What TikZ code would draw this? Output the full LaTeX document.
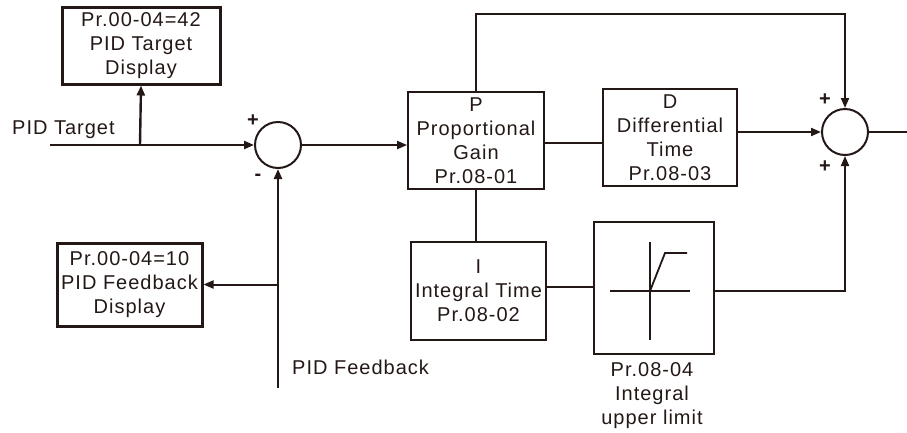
\documentclass[tikz,border=0pt]{standalone}
\usepackage{fontspec}
\setmainfont{Liberation Sans}[LetterSpace=5]
\usetikzlibrary{arrows.meta,calc}
\definecolor{ink}{RGB}{35,24,21}
\tikzset{
  every node/.style={font=\fontsize{20}{24}\selectfont, text=ink, inner sep=0pt, align=center},
  blk/.style={draw=ink, line width=1.8pt, rectangle},
  disp/.style={draw=ink, line width=3pt, rectangle},
  sum/.style={draw=ink, line width=2pt, circle, minimum size=46pt},
  conn/.style={draw=ink, line width=2pt},
  arr/.style={conn, -{Triangle[length=10pt,width=8pt]}},
  sign/.style={font=\fontsize{20}{24}\selectfont\bfseries}
}
\begin{document}
\begin{tikzpicture}[x=1pt,y=-1pt]
\useasboundingbox (0,0) rectangle (907,432);
% blocks
\node[disp, minimum width=158pt, minimum height=77pt] (TD) at (141,45.5) {Pr.00-04=42\\PID Target\\Display};
\node[disp, minimum width=145pt, minimum height=83pt] (FD) at (129.5,284.5) {Pr.00-04=10\\PID Feedback\\Display};
\node[blk, minimum width=136pt, minimum height=97pt] (P) at (476,140.5) {P\\Proportional\\Gain\\Pr.08-01};
\node[blk, minimum width=134pt, minimum height=97pt] (D) at (670,137.5) {D\\Differential\\Time\\Pr.08-03};
\node[blk, minimum width=135pt, minimum height=98pt] (I) at (478.5,291) {I\\Integral Time\\Pr.08-02};
\node[blk, minimum width=120pt, minimum height=132pt] (L) at (654,288) {};
\node[sum] (S1) at (278,145) {};
\node[sum] (S2) at (845,132) {};
% limiter graphic
\draw[conn, line width=1.8pt] (650,242) -- (650,340);
\draw[conn, line width=1.8pt] (610,291) -- (690,291);
\draw[conn, line width=1.8pt] (650,291) -- (665,253) -- (687,253);
% labels
\node[anchor=west] (lt) at (12,130) {PID Target};
\node[anchor=west] (lf) at (292,367) {PID Feedback};
\node (ll) at (652,396) {Pr.08-04\\Integral\\upper limit};
\node[sign] (p1) at (253,121) {+};
\node[sign] (m1) at (258,177) {-};
\node[sign] (p2) at (825,100) {+};
\node[sign] (p3) at (825,167) {+};
% coordinates
\coordinate (tg) at (50,145);
\coordinate (br) at (140,145);
\coordinate (fb) at (278,388);
\coordinate (top) at (845,14);
\coordinate (out) at (907,132);
% connectors
\draw[arr, line width=2.4pt] (tg) -- (S1.west);
\draw[arr, line width=2.4pt] (br) -- (TD.south);
\draw[arr, line width=2.4pt] (fb) -- (S1.south);
\draw[arr] (fb |- FD.east) -- (FD.east);
\draw[arr] (S1.east) -- (P.west |- S1.east);
\draw[arr] (P.north) |- (top) -- (S2.north);
\draw[conn] ([yshift=-5.5pt]D.west -| P.east) -- ([yshift=-5.5pt]D.west);
\draw[arr] ([yshift=5.5pt]D.east) -- (S2.west);
\draw[conn] (P.south) -- (P.south |- I.north);
\draw[conn] ([yshift=4pt]I.east) -- ([yshift=4pt]I.east -| L.west);
\draw[arr] ([yshift=-3pt]L.east) -| (S2.south);
\draw[conn] (S2.east) -- (out);
\end{tikzpicture}
\end{document}
